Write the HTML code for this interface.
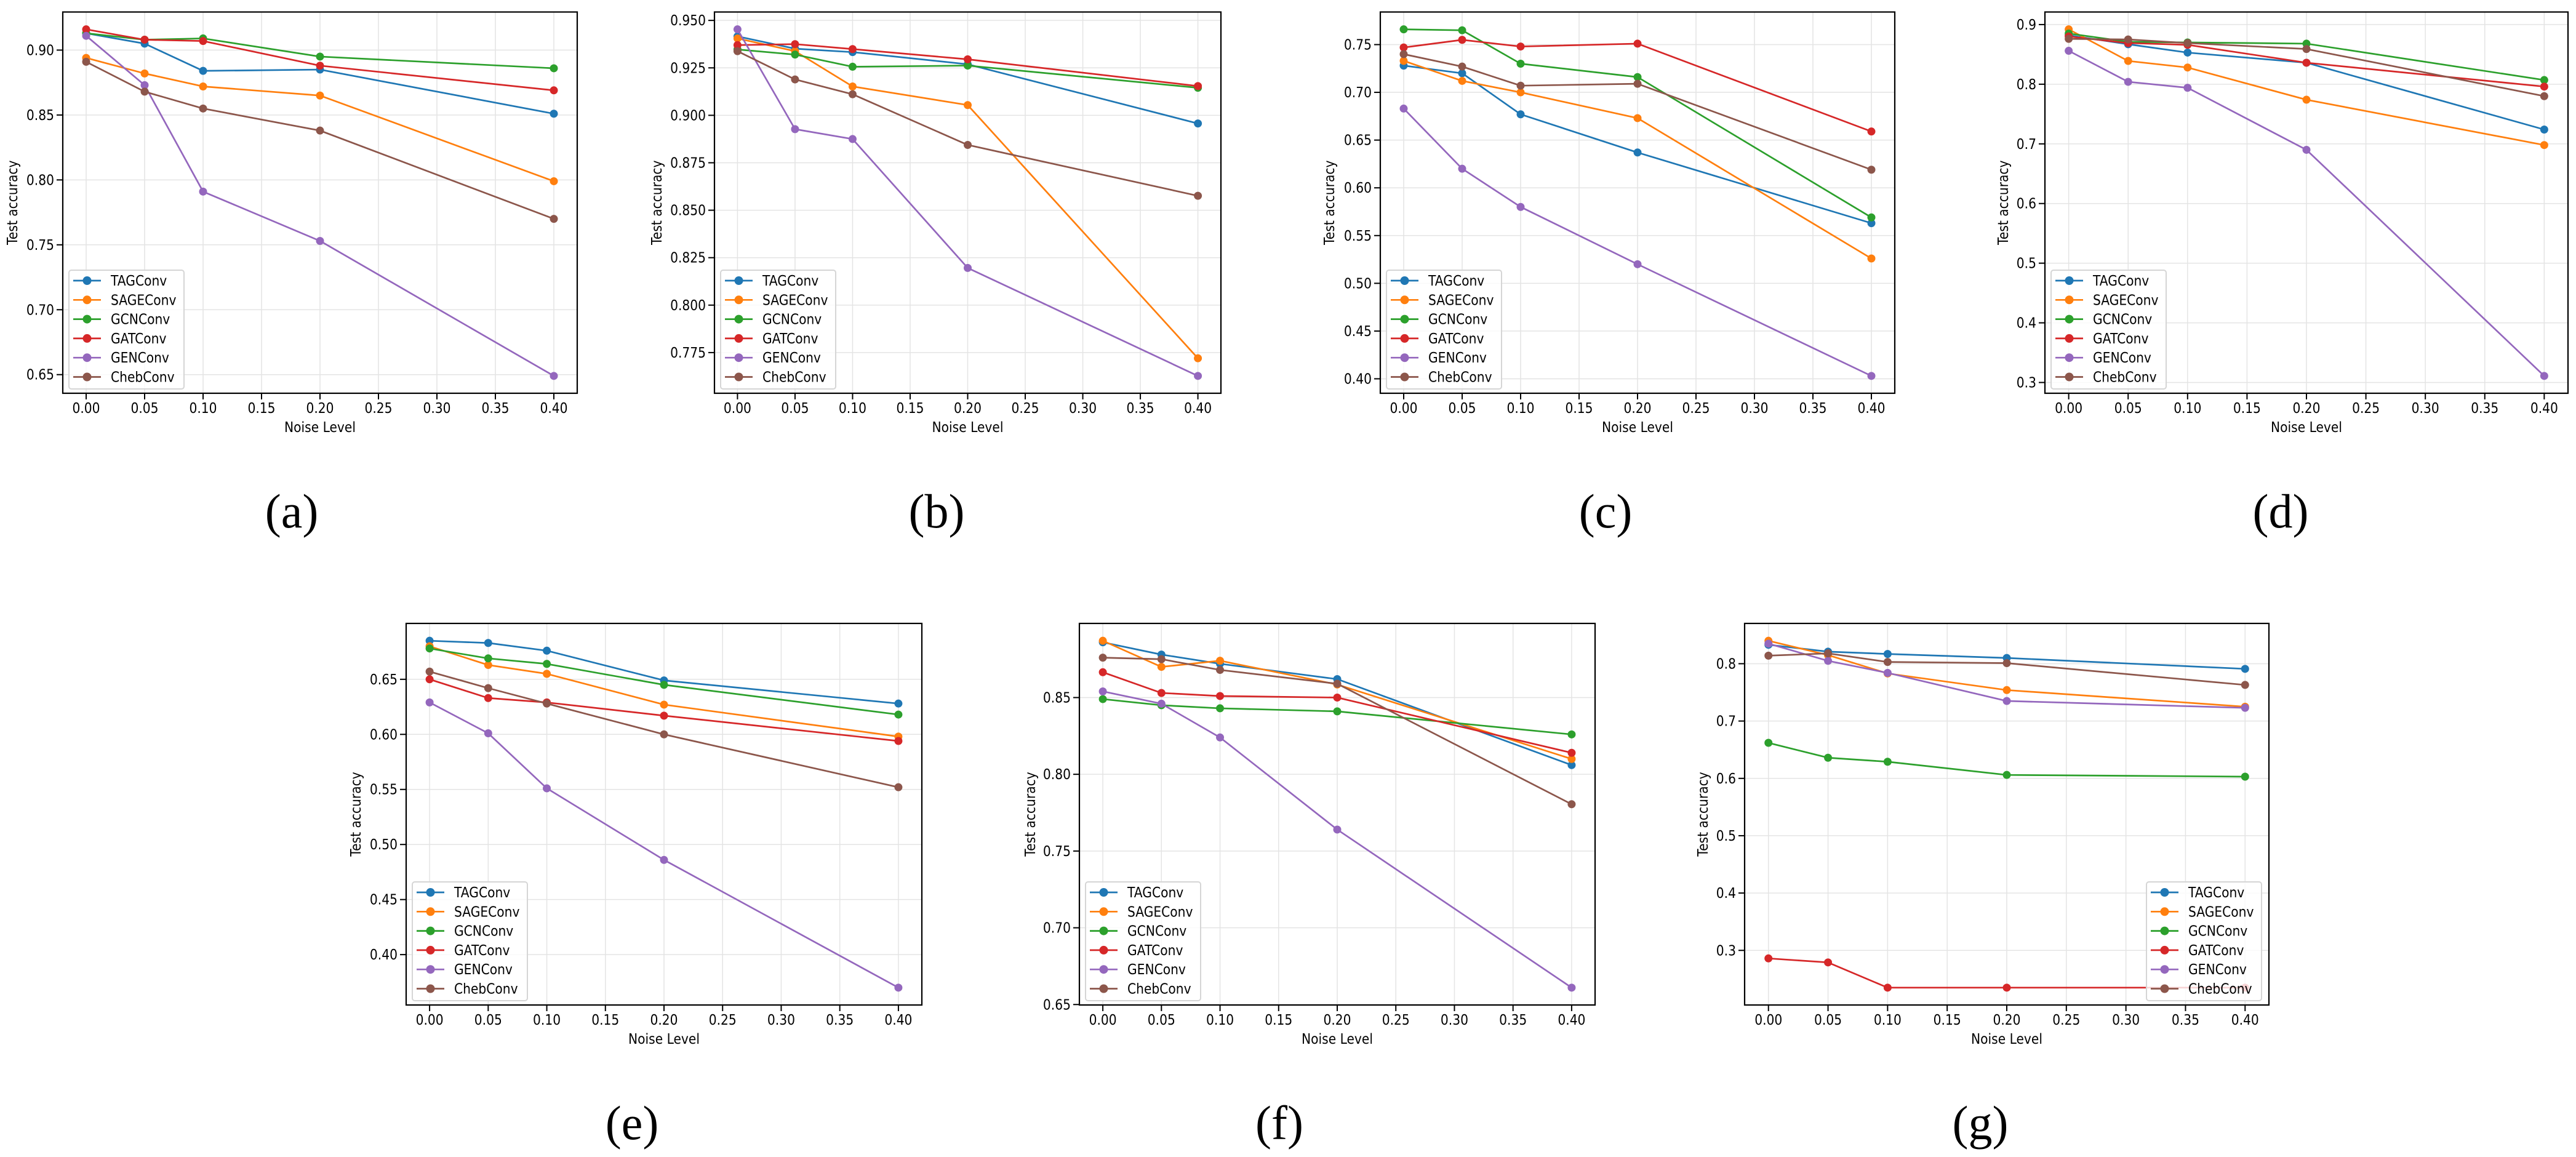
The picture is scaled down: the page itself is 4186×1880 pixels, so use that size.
<!DOCTYPE html>
<html><head><meta charset="utf-8"><style>
html,body{margin:0;padding:0;background:#fff;}
svg{display:block;}
</style></head><body>
<svg id="fig" width="4186" height="1880" viewBox="0 0 4186 1880" xmlns="http://www.w3.org/2000/svg"></svg>
<script>
const xValues = [0, 0.05, 0.10, 0.20, 0.40];
const seriesNames = ['TAGConv','SAGEConv','GCNConv','GATConv','GENConv','ChebConv'];
const xTickValues = [0,0.05,0.10,0.15,0.20,0.25,0.30,0.35,0.40];
const xTickLabels = ['0.00','0.05','0.10','0.15','0.20','0.25','0.30','0.35','0.40'];

const accA = [[0.913,0.905,0.884,0.885,0.851],[0.894,0.882,0.872,0.865,0.799],[0.913,0.908,0.909,0.895,0.886],[0.916,0.908,0.907,0.888,0.869],[0.911,0.873,0.791,0.753,0.649],[0.891,0.868,0.855,0.838,0.770]];
const accB = [[0.9416,0.9351,0.9333,0.9269,0.8957],[0.9405,0.9338,0.9152,0.9054,0.772],[0.9347,0.932,0.9256,0.9262,0.9145],[0.937,0.9375,0.9349,0.9295,0.9154],[0.9453,0.8927,0.8875,0.8196,0.7627],[0.9338,0.9189,0.9111,0.8844,0.8576]];
const accC = [[0.728,0.720,0.677,0.637,0.563],[0.733,0.712,0.700,0.673,0.526],[0.766,0.765,0.730,0.716,0.569],[0.747,0.755,0.748,0.751,0.659],[0.683,0.620,0.580,0.520,0.403],[0.740,0.727,0.707,0.709,0.619]];
const accD = [[0.882,0.867,0.853,0.836,0.724],[0.892,0.839,0.828,0.774,0.698],[0.885,0.871,0.870,0.868,0.807],[0.880,0.869,0.866,0.836,0.796],[0.856,0.804,0.794,0.690,0.311],[0.876,0.875,0.869,0.859,0.780]];
const accE = [[0.685,0.683,0.676,0.649,0.628],[0.680,0.663,0.655,0.627,0.598],[0.678,0.669,0.664,0.645,0.618],[0.650,0.633,0.629,0.617,0.594],[0.629,0.601,0.551,0.486,0.370],[0.657,0.642,0.628,0.600,0.552]];
const accF = [[0.886,0.878,0.872,0.862,0.806],[0.887,0.870,0.874,0.8585,0.810],[0.849,0.845,0.843,0.841,0.826],[0.8665,0.853,0.851,0.850,0.814],[0.854,0.846,0.824,0.764,0.661],[0.876,0.875,0.868,0.859,0.7805]];
const accG = [[0.833,0.821,0.817,0.810,0.791],[0.840,0.815,0.783,0.754,0.725],[0.662,0.636,0.629,0.606,0.603],[0.286,0.279,0.235,0.235,0.235],[0.835,0.805,0.784,0.735,0.723],[0.814,0.818,0.803,0.801,0.763]];

const yTicksA = [0.65,0.70,0.75,0.80,0.85,0.90];
const yTickLabelsA = ['0.65','0.70','0.75','0.80','0.85','0.90'];
const yTicksB = [0.775,0.800,0.825,0.850,0.875,0.900,0.925,0.950];
const yTickLabelsB = ['0.775','0.800','0.825','0.850','0.875','0.900','0.925','0.950'];
const yTicksC = [0.40,0.45,0.50,0.55,0.60,0.65,0.70,0.75];
const yTickLabelsC = ['0.40','0.45','0.50','0.55','0.60','0.65','0.70','0.75'];
const yTicksD = [0.3,0.4,0.5,0.6,0.7,0.8,0.9];
const yTickLabelsD = ['0.3','0.4','0.5','0.6','0.7','0.8','0.9'];
const yTicksE = [0.40,0.45,0.50,0.55,0.60,0.65];
const yTickLabelsE = ['0.40','0.45','0.50','0.55','0.60','0.65'];
const yTicksF = [0.65,0.70,0.75,0.80,0.85];
const yTickLabelsF = ['0.65','0.70','0.75','0.80','0.85'];
const yTicksG = [0.3,0.4,0.5,0.6,0.7,0.8];
const yTickLabelsG = ['0.3','0.4','0.5','0.6','0.7','0.8'];

const colors = ['#1f77b4','#ff7f0e','#2ca02c','#d62728','#9467bd','#8c564b'];
const panels = [
  {id:'a', acc:accA, yt:yTicksA, yl:yTickLabelsA, box:[102,19.5,938,639], ylx:20, cap:474, legend:'left'},
  {id:'b', acc:accB, yt:yTicksB, yl:yTickLabelsB, box:[1161,19.5,1984,639], ylx:1067, cap:1522, legend:'left'},
  {id:'c', acc:accC, yt:yTicksC, yl:yTickLabelsC, box:[2243,19.5,3079,639], ylx:2160, cap:2609, legend:'left'},
  {id:'d', acc:accD, yt:yTicksD, yl:yTickLabelsD, box:[3323,19.5,4173,639], ylx:3255, cap:3706, legend:'left'},
  {id:'e', acc:accE, yt:yTicksE, yl:yTickLabelsE, box:[660,1013,1498,1633], ylx:578, cap:1027, legend:'left'},
  {id:'f', acc:accF, yt:yTicksF, yl:yTickLabelsF, box:[1754,1013,2592,1633], ylx:1674, cap:2079, legend:'left'},
  {id:'g', acc:accG, yt:yTicksG, yl:yTickLabelsG, box:[2835,1013,3687,1633], ylx:2767, cap:3218, legend:'right'}
];
const NS = 'http://www.w3.org/2000/svg';
const svg = document.getElementById('fig');
const FS = 23, SX = 0.88;
function mk(tag, attrs, parent){
  const e = document.createElementNS(NS, tag);
  for (const k in attrs) e.setAttribute(k, attrs[k]);
  (parent||svg).appendChild(e);
  return e;
}
function txt(parent, x, y, s, anchor, rot, size, sx, fam){
  const t = mk('text', {x:0, y:0, 'font-size':size||FS, 'text-anchor':anchor||'start',
    'font-family': fam || '"DejaVu Sans","Liberation Sans",sans-serif', fill:'#000',
    transform:`translate(${x},${y}) rotate(${rot||0}) scale(${sx===undefined?SX:sx},1)`}, parent);
  t.textContent = s;
  return t;
}
panels.forEach(p => {
  const g = mk('g', {});
  
  
  const [L,T,R,B] = p.box;
  const all = p.acc.flat();
  const mn = Math.min(...all), mx = Math.max(...all), sp = mx - mn;
  const y0 = mn - 0.05*sp, y1 = mx + 0.05*sp;
  const xs = v => L + (v + 0.02) / 0.44 * (R - L);
  const ys = v => B - (v - y0) / (y1 - y0) * (B - T);
  xTickValues.forEach((v,i) => {
    const l = mk('line', {x1:xs(v), x2:xs(v), y1:T, y2:B, stroke:'#e4e4e4', 'stroke-width':1.5}, g);
    
    
    const tk = mk('line', {x1:xs(v), x2:xs(v), y1:B, y2:B+10, stroke:'#000', 'stroke-width':2}, g);
    
    
    const tl = txt(g, xs(v), B+32, xTickLabels[i], 'middle');
    
    
  });
  p.yt.forEach((v,i) => {
    if (v < y0 || v > y1) return;
    const l = mk('line', {x1:L, x2:R, y1:ys(v), y2:ys(v), stroke:'#e4e4e4', 'stroke-width':1.5}, g);
    
    
    const tk = mk('line', {x1:L-10, x2:L, y1:ys(v), y2:ys(v), stroke:'#000', 'stroke-width':2}, g);
    
    
    const tl = txt(g, L-14, ys(v)+8, p.yl[i], 'end');
    
    
  });
  p.acc.forEach((vals, si) => {
    const sg = mk('g', {}, g);
    
    
    const pts = vals.map((v,i) => xs(xValues[i]) + ',' + ys(v)).join(' ');
    const pl = mk('polyline', {points:pts, fill:'none', stroke:colors[si], 'stroke-width':2.7, 'stroke-linejoin':'round'}, sg);
    
    
    vals.forEach((v,i) => {
      const c = mk('circle', {cx:xs(xValues[i]), cy:ys(v), r:6.5, fill:colors[si]}, sg);
      
      
    });
  });
  const fr = mk('rect', {x:L, y:T, width:R-L, height:B-T, fill:'none', stroke:'#000', 'stroke-width':2.2}, g);
  
  
  const lw = 187, lh = 193;
  const lx = p.legend === 'left' ? L + 10 : R - 12 - lw;
  const ly = B - 7 - lh;
  const lg = mk('g', {}, g);
  
  
  mk('rect', {x:lx, y:ly, width:lw, height:lh, rx:4, fill:'#fff', 'fill-opacity':0.8, stroke:'#d5d5d5', 'stroke-width':2}, lg);
  seriesNames.forEach((n, si) => {
    const cy = ly + 17 + si*31.3;
    const le = mk('g', {}, lg);
    
    
    mk('line', {x1:lx+7, x2:lx+52, y1:cy, y2:cy, stroke:colors[si], 'stroke-width':2.7}, le);
    mk('circle', {cx:lx+29.5, cy:cy, r:7, fill:colors[si]}, le);
    txt(le, lx+68, cy+8, n, 'start');
  });
  const xl = txt(g, (L+R)/2, B+63, 'Noise Level', 'middle');
  
  
  const yl = txt(g, p.ylx+8, (T+B)/2, 'Test accuracy', 'middle', -90);
  
  
  const cp = txt(g, p.cap, B + 218, '(' + p.id + ')', 'middle', 0, 78, 1, '"Liberation Serif",serif');
  
  
});
</script>
</body></html>
